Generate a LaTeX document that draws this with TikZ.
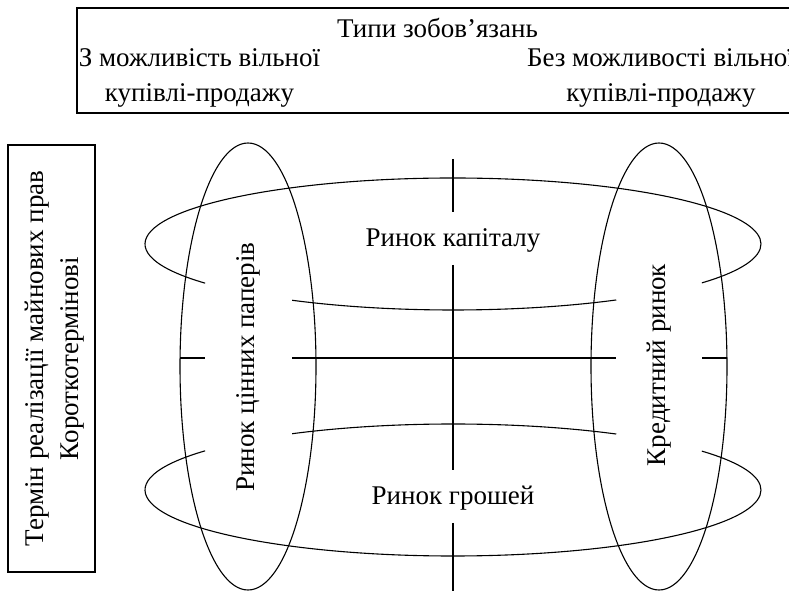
\documentclass[tikz,border=0pt]{standalone}
\usepackage{fontspec}
\setmainfont{Liberation Serif}
\tikzset{
  txt/.style={font=\fontsize{27}{35}\selectfont, inner sep=0pt, align=center},
  frm/.style={draw, line width=1.2pt},
  hell/.style={x radius=308pt, y radius=66pt},
}
\begin{document}
\begin{tikzpicture}[x=1pt, y=1pt, line width=1.1pt]
        \useasboundingbox (0,0) rectangle (789,591);

        % ===== HEADER BOX (types of obligations) =====
        \draw[frm] (77,583) rectangle (800,478);
        \node[txt, anchor=base] (types) at (437.5,553) {Типи зобов’язань};
        \node[txt] (withfree) at (199.5,513) {З можливість вільної\\купівлі-продажу};
        \node[txt] (nofree) at (661,513) {Без можливості вільної\\купівлі-продажу};

        % ===== SIDE BOX (term) =====
        \draw[frm] (8,446) rectangle (95,19);
        \node[txt, rotate=90] (term) at (55,232.5)
            {Термін реалізації майнових прав\\Короткотермінові};

        % ===== VERTICAL ELLIPSES =====
        \draw (248,224.5) ellipse [x radius=68pt, y radius=223.5pt];
        \draw (659,224.5) ellipse [x radius=68pt, y radius=223.5pt];

        % ===== HORIZONTAL ELLIPSES (open where the vertical texts are) =====
        % upper one: centre (453,347)
        \draw ([shift={(216.4:308pt and 66pt)}]453,347)
            arc[start angle=216.4, end angle=-36.1, hell];
        \draw ([shift={(238.5:308pt and 66pt)}]453,347)
            arc[start angle=238.5, end angle=302, hell];
        % lower one: centre (453,101)
        \draw ([shift={(143.6:308pt and 66pt)}]453,101)
            arc[start angle=143.6, end angle=396.1, hell];
        \draw ([shift={(121.5:308pt and 66pt)}]453,101)
            arc[start angle=121.5, end angle=58, hell];

        % ===== MIDDLE HORIZONTAL LINE =====
        \draw (180,233) -- (205,233);
        \draw (292,233) -- (616,233);
        \draw (702,233) -- (727,233);

        % ===== CENTRAL VERTICAL LINE =====
        \draw (453,432) -- (453,379);
        \draw (453,326) -- (453,121);
        \draw (453,68) -- (453,-5);

        % ===== MARKET LABELS =====
        \node[txt] (capital) at (453,351) {Ринок капіталу};
        \node[txt] (money) at (453,93) {Ринок грошей};
        \node[txt, rotate=90] (securities) at (248,224) {Ринок цінних паперів};
        \node[txt, rotate=90] (credit) at (659,226) {Кредитний ринок};

    \end{tikzpicture}
\end{document}
